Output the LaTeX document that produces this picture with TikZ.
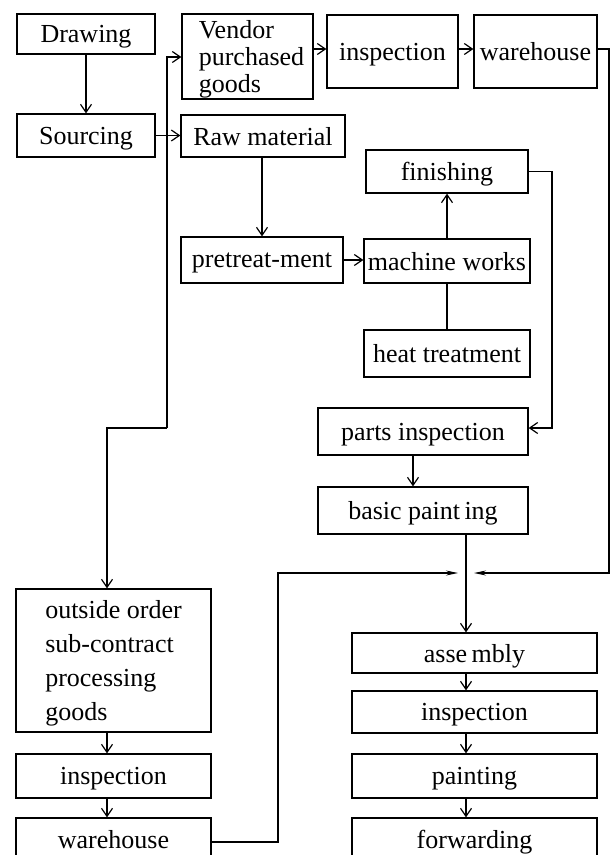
\documentclass[tikz,border=0pt]{standalone}
\usepackage{fontspec}
\setmainfont{Liberation Serif}
\usetikzlibrary{arrows.meta}
\begin{document}
\begin{tikzpicture}[x=1pt,y=-1pt,
  box/.style={draw, line width=1.3pt, inner sep=0pt, text depth=0pt,
    font=\fontsize{26}{27}\selectfont},
  flow/.style={line width=1.2pt, -{Straight Barb[length=8pt,width=11pt]}},
  link/.style={line width=1.2pt},
  meet/.style={line width=1.2pt, -{Stealth[length=12pt,width=5pt]}}]
\useasboundingbox (0,0) rectangle (611,855);
\clip (0,0) rectangle (611,855);

% --- procurement ---
\node[box, minimum width=138pt, minimum height=40pt] (drw) at (86,34) {Drawing};
\node[box, minimum width=138pt, minimum height=43pt] (src) at (86,135.5) {Sourcing};
\node[box, minimum width=131pt, minimum height=85pt, align=left] (vend) at (247.5,56.5)
  {\hspace*{8pt}Vendor\\\hspace*{8pt}purchased\\\hspace*{8pt}goods};
\node[box, minimum width=131pt, minimum height=73pt] (insp1) at (392.5,51.5) {inspection};
\node[box, minimum width=123pt, minimum height=73pt] (wh1) at (535.5,51.5) {warehouse};
\node[box, minimum width=164pt, minimum height=42pt] (raw) at (263,136) {Raw material};

% --- in-house machining ---
\node[box, minimum width=162pt, minimum height=43pt] (fin) at (447,171.5) {finishing};
\node[box, minimum width=162pt, minimum height=46pt] (pre) at (262,260) {pretreat-ment};
\node[box, minimum width=166pt, minimum height=44pt] (mach) at (447,261) {machine works};
\node[box, minimum width=166pt, minimum height=47pt] (heat) at (447,353.5) {heat treatment};
\node[box, minimum width=210pt, minimum height=47pt] (parts) at (423,431.5) {parts inspection};
\node[box, minimum width=210pt, minimum height=47pt] (basic) at (423,510.5) {basic paint\,ing};

% --- outside processing ---
\node[box, minimum width=195pt, minimum height=143pt, align=left,
  font=\fontsize{26}{34}\selectfont] (outs) at (113.5,660.5)
  {outside order\\sub-contract\\processing\\goods};
\node[box, minimum width=195pt, minimum height=44pt] (insp2) at (113.5,776) {inspection};
\node[box, minimum width=195pt, minimum height=42pt] (wh2) at (113.5,839) {warehouse};

% --- final assembly ---
\node[box, minimum width=245pt, minimum height=40pt] (asm) at (474.5,653) {asse\,mbly};
\node[box, minimum width=245pt, minimum height=42pt] (insp3) at (474.5,712) {inspection};
\node[box, minimum width=245pt, minimum height=44pt] (paint) at (474.5,776) {painting};
\node[box, minimum width=245pt, minimum height=42pt] (fwd) at (474.5,839) {forwarding};

% --- routing points ---
\coordinate (b1) at (167,57);
\coordinate (b2) at (167,428);
\coordinate (b3) at (107,428);
\coordinate (r49) at (0,49);
\coordinate (e1) at (609,49);
\coordinate (e2) at (609,573);
\coordinate (jr) at (474,573);
\coordinate (jl) at (458,573);
\coordinate (w1) at (278,573);
\coordinate (w2) at (278,842);
\coordinate (f1) at (552,171.5);
\coordinate (f2) at (552,428);
\coordinate (kx) at (413,0);
\coordinate (mx) at (466,0);
\coordinate (lx) at (107,0);

% --- connectors ---
\draw[flow] (drw) -- (src);
\draw[flow] (src.east) -- (src.east -| raw.west);
\draw[flow] (b2) -- (b1) -- (b1 -| vend.west);
\draw[flow] (b2) -- (b3) -- (b3 |- outs.north);
\draw[flow] (vend.east |- r49) -- (insp1.west |- r49);
\draw[flow] (insp1.east |- r49) -- (wh1.west |- r49);
\draw[meet] (wh1.east |- e1) -- (e1) -- (e2) -- (jr);
\draw[flow] (pre.north |- raw.south) -- (pre.north);
\draw[flow] (pre.east) -- (pre.east -| mach.west);
\draw[flow] (mach.north) -- (fin.south);
\draw[link] (heat) -- (mach);
\draw[flow] (fin.east) -- (f1) -- (f2) -- (f2 -| parts.east);
\draw[flow] (parts.south -| kx) -- (basic.north -| kx);
\draw[flow] (basic.south -| mx) -- (asm.north -| mx);
\draw[flow] (asm.south -| mx) -- (insp3.north -| mx);
\draw[flow] (insp3.south -| mx) -- (paint.north -| mx);
\draw[flow] (paint.south -| mx) -- (fwd.north -| mx);
\draw[flow] (outs.south -| lx) -- (insp2.north -| lx);
\draw[flow] (insp2.south -| lx) -- (wh2.north -| lx);
\draw[meet] (wh2.east |- w2) -- (w2) -- (w1) -- (jl);
\end{tikzpicture}
\end{document}
